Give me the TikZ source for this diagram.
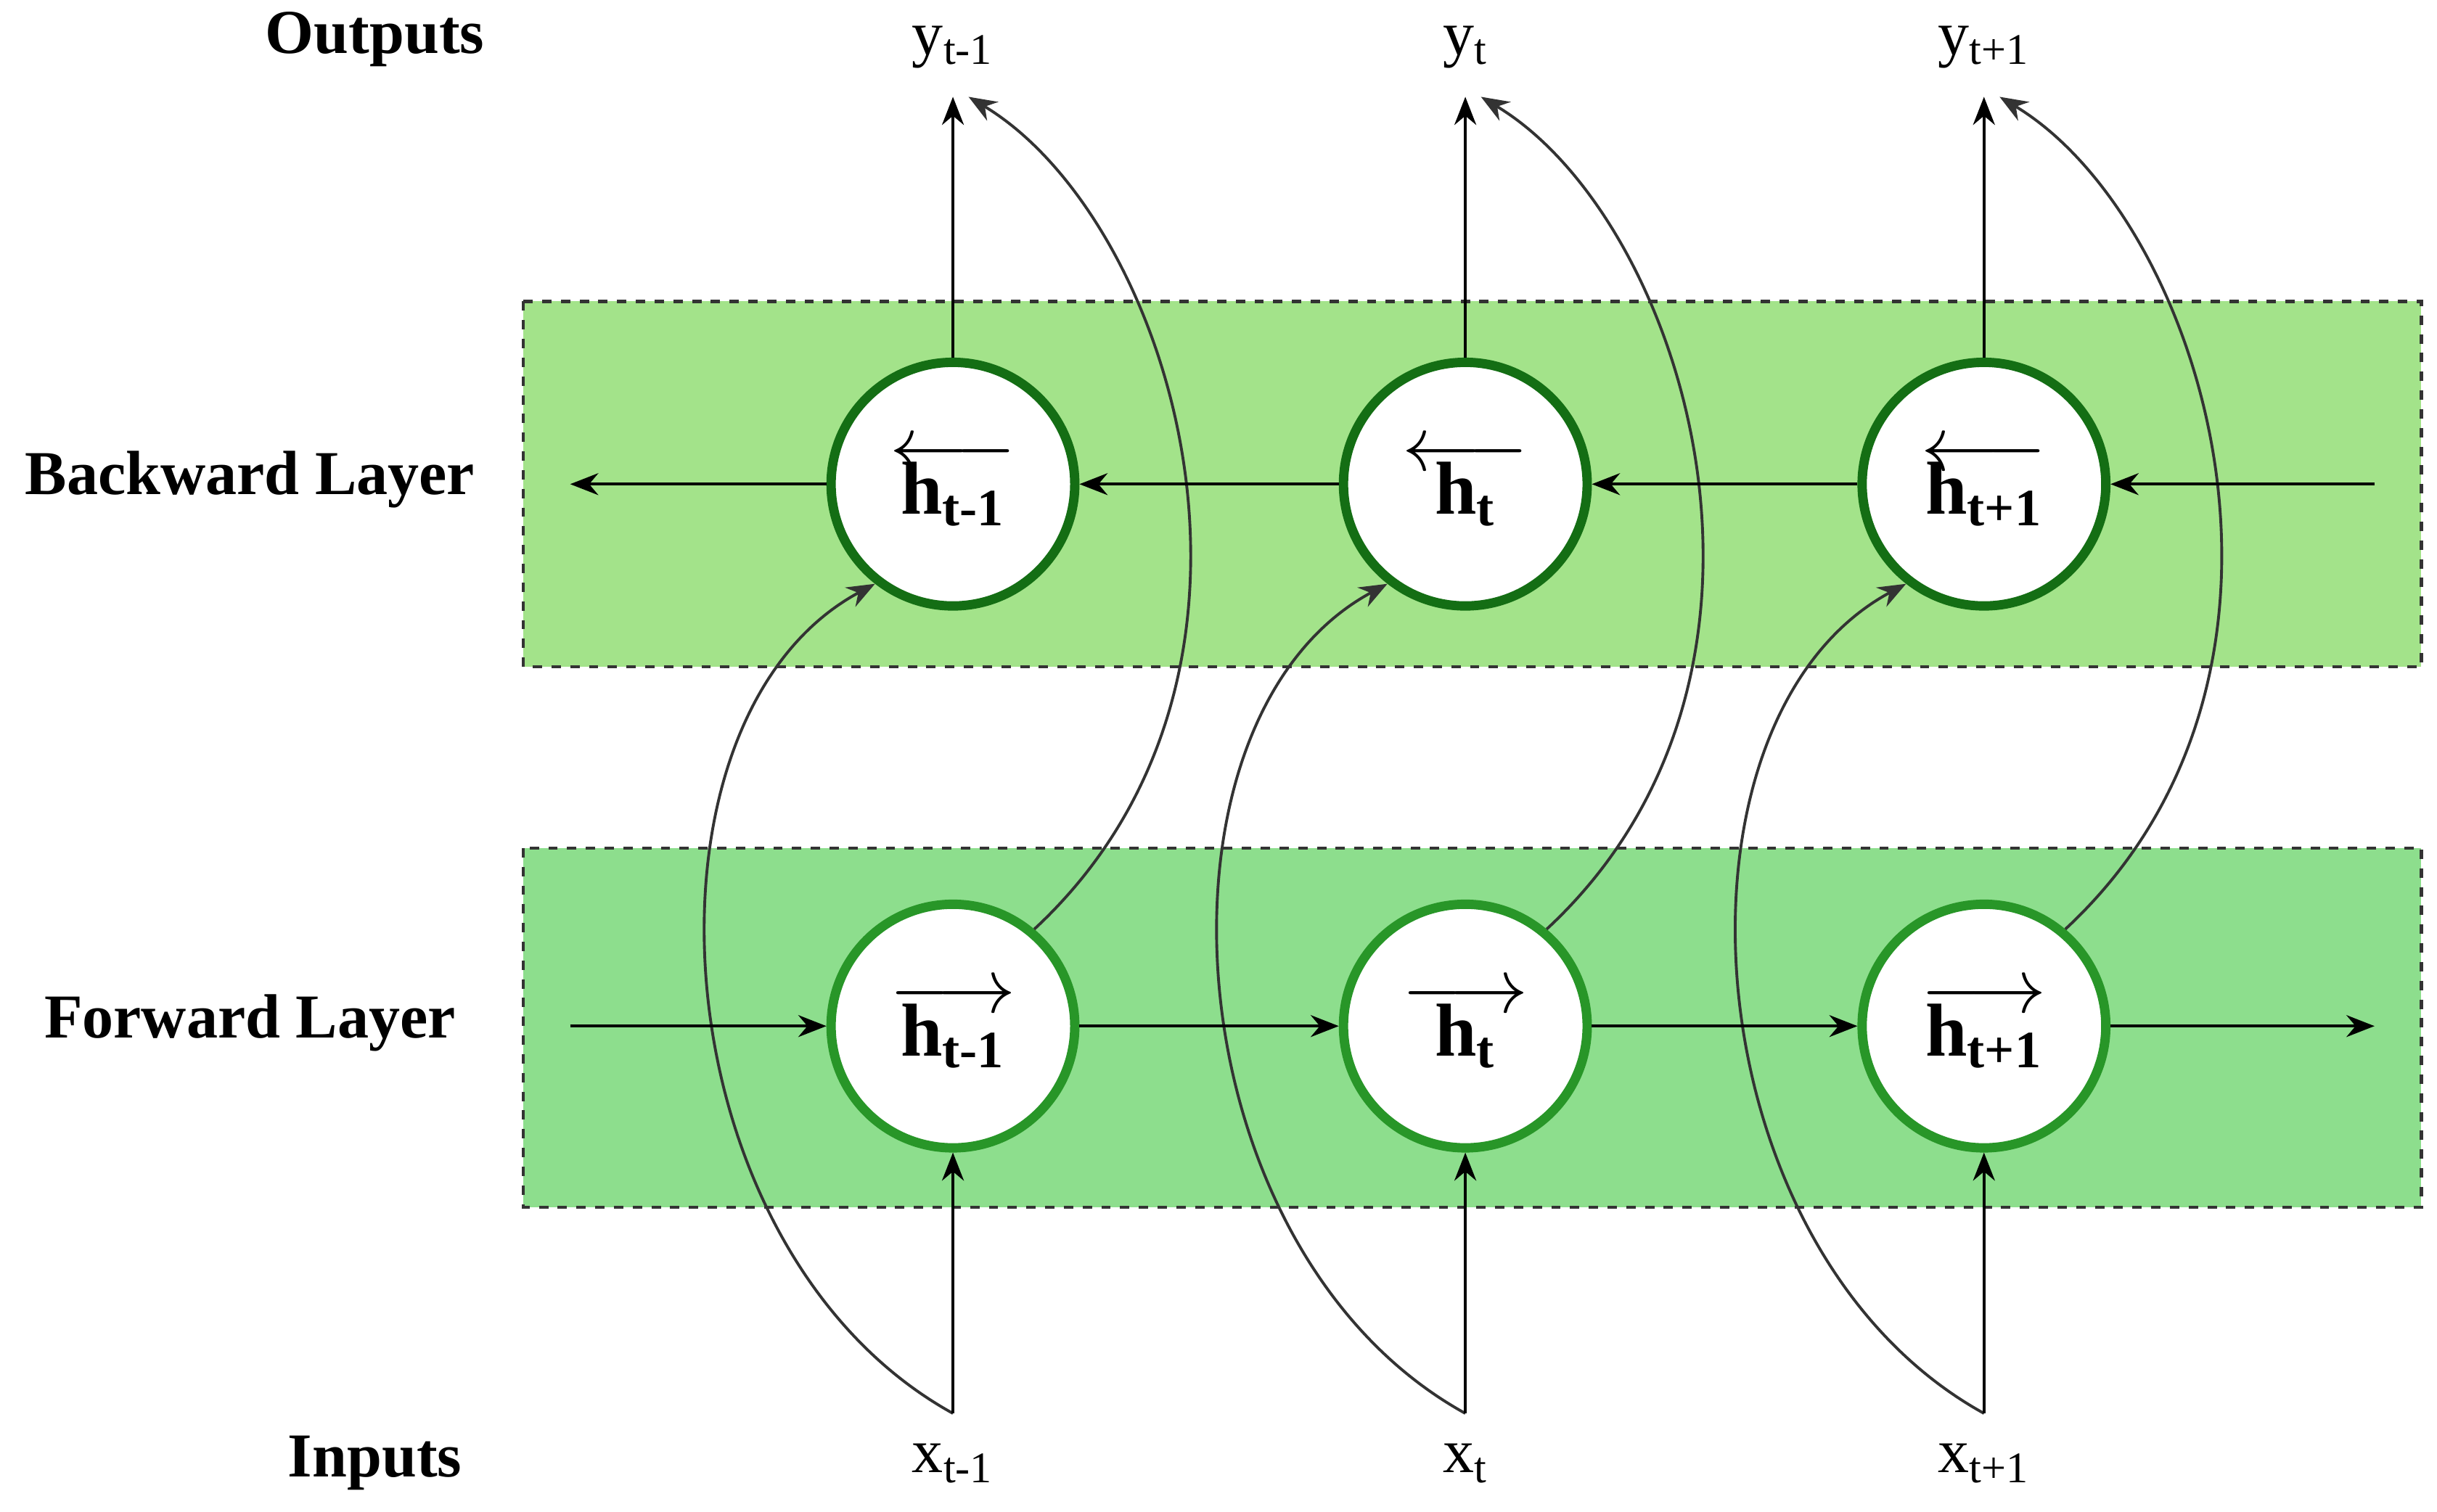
\documentclass[tikz,border=0pt]{standalone}
\usepackage{fontspec}
\setmainfont{Liberation Serif}
\usetikzlibrary{arrows.meta}
\definecolor{bfill}{RGB}{163,227,138}
\definecolor{ffill}{RGB}{141,222,141}
\definecolor{bdraw}{RGB}{20,110,20}
\definecolor{fdraw}{RGB}{40,150,40}
\begin{document}
\begin{tikzpicture}[x=0.5pt,y=-0.5pt,
  lab/.style={font=\fontsize{20}{24}\selectfont\bfseries},
  io/.style={font=\fontsize{20}{24}\selectfont},
  cell/.style={circle,fill=white,draw=#1,line width=3pt,minimum size=78pt,inner sep=0pt,align=center,font=\fontsize{24}{20}\selectfont\bfseries},
  ar/.style={-{Stealth[length=9pt,width=7pt]},line width=0.9pt,black},
  cv/.style={-{Stealth[length=9pt,width=7pt]},line width=0.9pt,black!80}]
\useasboundingbox (0,0) rectangle (1560,968);
\fill[white] (0,0) rectangle (1560,968);
\draw[fill=bfill,dashed,line width=1pt,draw=black!80] (335,193) rectangle (1550,427);
\draw[fill=ffill,dashed,line width=1pt,draw=black!80] (335,543) rectangle (1550,773);
\node[lab] at (240,25) {Outputs};
\node[lab] at (160,307) {Backward Layer};
\node[lab] at (160,655) {Forward Layer};
\node[lab] at (240,937) {Inputs};
\foreach \i/\x/\s in {1/610/{t-1},2/938/{t},3/1270/{t+1}}{
  \node[io] (y\i) at (\x,30) {y\textsubscript{\s}};
  \node[io] (x\i) at (\x,937) {x\textsubscript{\s}};
  \node[cell=bdraw] (b\i) at (\x,310) {$\longleftarrow$\\[-6pt]h\textsubscript{\s}};
  \node[cell=fdraw] (f\i) at (\x,657) {$\longrightarrow$\\[-6pt]h\textsubscript{\s}};
  \coordinate (xi\i) at (\x,905);
  \coordinate (yo\i) at (\x+10,62);
}
\coordinate (bl) at (365,310); \coordinate (br) at (1520,310);
\coordinate (fl) at (365,657); \coordinate (fr) at (1520,657);
\foreach \i/\x in {1/610,2/938,3/1270}{
  \draw[cv] (xi\i) .. controls (\x-190,800) and (\x-210,460) .. (b\i.-128);
  \draw[cv] (f\i.50) .. controls (\x+230,430) and (\x+140,140) .. (yo\i);
  \draw[ar] (b\i.north) -- (\x,62);
  \draw[ar] (xi\i) -- (f\i.south);
}
\draw[ar] (br) -- (b3.east); \draw[ar] (b3.west) -- (b2.east);
\draw[ar] (b2.west) -- (b1.east); \draw[ar] (b1.west) -- (bl);
\draw[ar] (fl) -- (f1.west); \draw[ar] (f1.east) -- (f2.west);
\draw[ar] (f2.east) -- (f3.west); \draw[ar] (f3.east) -- (fr);
\end{tikzpicture}
\end{document}
